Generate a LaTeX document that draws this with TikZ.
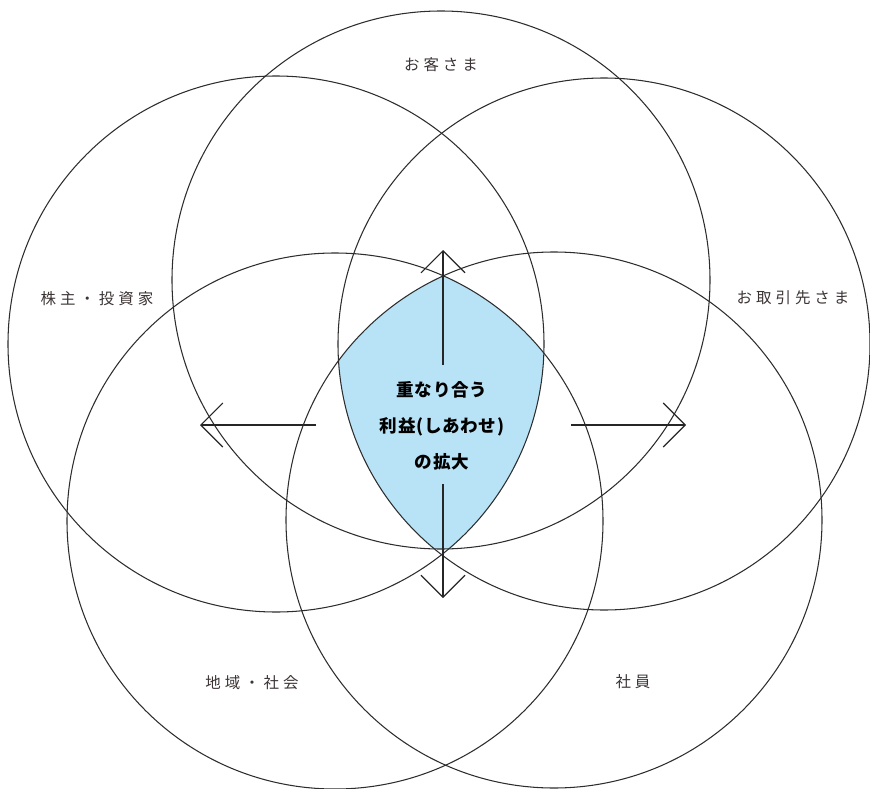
\documentclass[tikz,border=0pt]{standalone}
\usepackage{fontspec}
\usepackage{tikz}
\usetikzlibrary{arrows.meta}
\newfontfamily\jplabel{Noto Sans CJK JP}[LetterSpace=26]
\newfontfamily\jpcenter{Noto Sans CJK JP}[LetterSpace=4]
\definecolor{lensblue}{RGB}{184,227,247}
\definecolor{ringgray}{RGB}{45,45,45}
\definecolor{labelgray}{RGB}{60,52,52}

\begin{document}
\begin{tikzpicture}[x=0.025cm, y=-0.025cm, >={Straight Barb[length=5.5mm, width=11mm]},
    ring/.style={draw=ringgray, line width=0.75pt},
    flow/.style={->, draw=black!85, line width=0.8pt},
    lbl/.style={text=labelgray, font=\jplabel\fontsize{11}{13}\selectfont, inner sep=0pt}]
  \useasboundingbox (0,0) rectangle (870,789);
  \clip (0,0) rectangle (870,789);

  % centres of the five circles
  \coordinate (cKyaku)  at (441,280);
  \coordinate (cKabu)   at (276,344);
  \coordinate (cTori)   at (604,344);
  \coordinate (cChiiki) at (335,521);
  \coordinate (cShain)  at (554,520);

  % the overlap of all five
  \begin{scope}
    \clip (cKyaku) circle (269);
    \clip (cKabu) circle (268);
    \clip (cTori) circle (266);
    \clip (cChiiki) circle (268);
    \clip (cShain) circle (268);
    \fill[lensblue] (0,0) rectangle (870,789);
  \end{scope}

  \draw[ring] (cKyaku) circle (269);
  \draw[ring] (cKabu) circle (268);
  \draw[ring] (cTori) circle (266);
  \draw[ring] (cChiiki) circle (268);
  \draw[ring] (cShain) circle (268);

  % labels
  \node[lbl] (kyaku)  at (441,65)  {お客さま};
  \node[lbl] (kabu)   at (97,299)  {株主・投資家};
  \node[lbl] (tori)   at (793,298) {お取引先さま};
  \node[lbl] (chiiki) at (252,683) {地域・社会};
  \node[lbl] (shain)  at (633,682) {社員};

  \node[align=center, inner sep=0pt, font=\jpcenter\bfseries\fontsize{12.5}{25.5}\selectfont]
    (kakudai) at (442,426) {重なり合う\\利益(しあわせ)\\の拡大};

  % arrows out of the centre
  \coordinate (upS) at (443,365);   \coordinate (upE) at (443,250);
  \coordinate (dnS) at (443,484);   \coordinate (dnE) at (443,598);
  \coordinate (lfS) at (316,425);   \coordinate (lfE) at (200,425);
  \coordinate (rtS) at (571,425);   \coordinate (rtE) at (686,425);
  \draw[flow] (upS) -- (upE);
  \draw[flow] (dnS) -- (dnE);
  \draw[flow] (lfS) -- (lfE);
  \draw[flow] (rtS) -- (rtE);
\end{tikzpicture}
\end{document}
